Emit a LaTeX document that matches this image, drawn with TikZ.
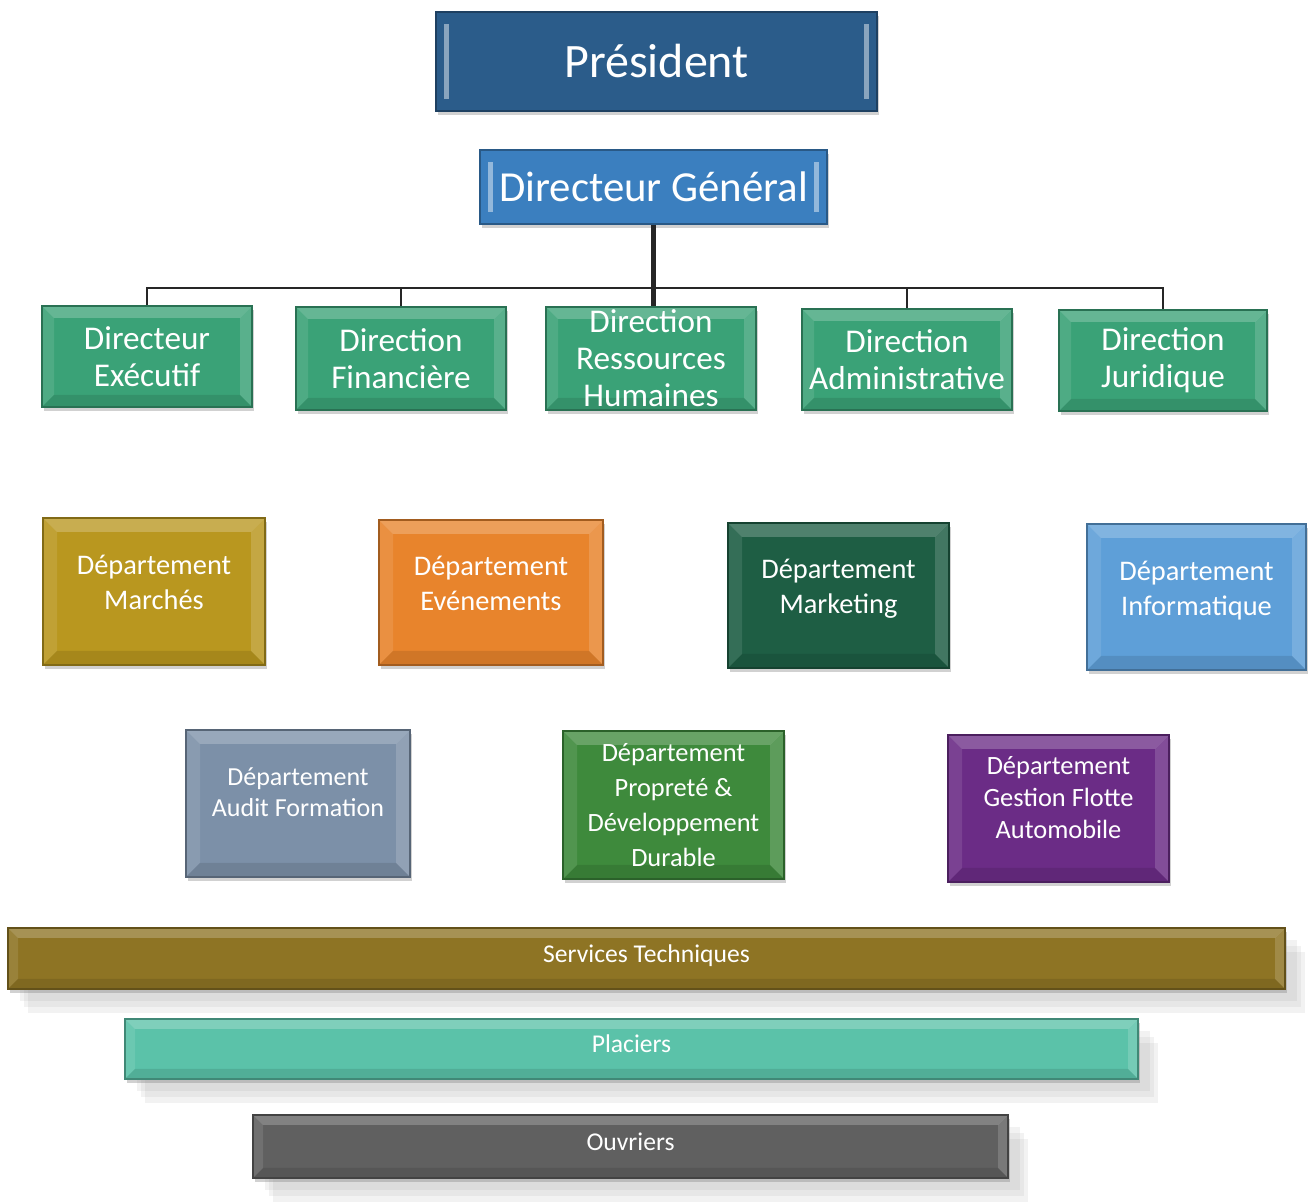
\documentclass[tikz,border=0pt]{standalone}
\usepackage{fontspec}
\setmainfont{Carlito}
\usetikzlibrary{shadows}
\definecolor{cPres}{HTML}{2B5C8A}
\definecolor{cDG}{HTML}{3B7FBF}
\definecolor{cDir}{HTML}{3AA277}
\definecolor{cMarch}{HTML}{B9971F}
\definecolor{cEven}{HTML}{E8842C}
\definecolor{cMark}{HTML}{1E5E44}
\definecolor{cInfo}{HTML}{5E9FD8}
\definecolor{cAudit}{HTML}{7C90A8}
\definecolor{cProp}{HTML}{3E8A3C}
\definecolor{cFlot}{HTML}{6B2C86}
\definecolor{cServ}{HTML}{8E7424}
\definecolor{cPlac}{HTML}{5BC2A9}
\definecolor{cOuv}{HTML}{606060}
\def\bevw{6pt}
\tikzset{
  bevw/.code={\def\bevw{#1}},
  bev/.style={fill=#1, draw=#1!70!black, line width=0.6pt, inner sep=0pt,
    text=white, align=center,
    drop shadow={shadow xshift=1.2pt, shadow yshift=-1.8pt, fill=black, opacity=0.18},
    path picture={
      \fill[white,opacity=0.22] (path picture bounding box.north west) -- (path picture bounding box.north east)
        -- ([shift={(-\bevw,-\bevw)}]path picture bounding box.north east) -- ([shift={(\bevw,-\bevw)}]path picture bounding box.north west) -- cycle;
      \fill[white,opacity=0.10] (path picture bounding box.north west) -- (path picture bounding box.south west)
        -- ([shift={(\bevw,\bevw)}]path picture bounding box.south west) -- ([shift={(\bevw,-\bevw)}]path picture bounding box.north west) -- cycle;
      \fill[white,opacity=0.16] (path picture bounding box.north east) -- (path picture bounding box.south east)
        -- ([shift={(-\bevw,\bevw)}]path picture bounding box.south east) -- ([shift={(-\bevw,-\bevw)}]path picture bounding box.north east) -- cycle;
      \fill[black,opacity=0.10] (path picture bounding box.south west) -- (path picture bounding box.south east)
        -- ([shift={(-\bevw,\bevw)}]path picture bounding box.south east) -- ([shift={(\bevw,\bevw)}]path picture bounding box.south west) -- cycle;
    }},
  topbox/.style={fill=#1, draw=#1!70!black, line width=0.6pt, inner sep=0pt,
    text=white, align=center,
    drop shadow={shadow xshift=1.2pt, shadow yshift=-1.8pt, fill=black, opacity=0.18},
    path picture={
      \fill[white,opacity=0.45] ([shift={(4pt,-6pt)}]path picture bounding box.north west) rectangle ([shift={(6.5pt,6pt)}]path picture bounding box.south west);
      \fill[white,opacity=0.45] ([shift={(-4pt,-6pt)}]path picture bounding box.north east) rectangle ([shift={(-6.5pt,6pt)}]path picture bounding box.south east);
    }},
  barshadow/.style={
    drop shadow={shadow xshift=6pt, shadow yshift=-6pt, fill=gray, opacity=0.10},
    drop shadow={shadow xshift=8pt, shadow yshift=-9pt, fill=gray, opacity=0.10},
    drop shadow={shadow xshift=10pt, shadow yshift=-12pt, fill=gray, opacity=0.10}},
  conn/.style={draw=black!85, line width=1.3pt},
  fPres/.style={font=\fontsize{24}{28}\selectfont},
  fDG/.style={font=\fontsize{21.4}{25}\selectfont},
  fDir/.style={font=\fontsize{16.6}{18.5}\selectfont},
  fDep/.style={font=\fontsize{14.2}{17.5}\selectfont, text depth=9pt},
  fAud/.style={font=\fontsize{13}{15.5}\selectfont, text depth=11pt},
  fProp/.style={font=\fontsize{13.2}{17.4}\selectfont},
  fFlot/.style={font=\fontsize{13.2}{16.2}\selectfont, text depth=11pt},
  fBar/.style={font=\fontsize{12.8}{15}\selectfont, text depth=5pt},
}
\begin{document}
\begin{tikzpicture}[x=0.5pt,y=-0.5pt]
\useasboundingbox (0,0) rectangle (1308,1202);
% top
\node[topbox=cPres, fPres, minimum width=220.5pt, minimum height=49.5pt] (pres) at (656.5,61.5) {Président};
\node[topbox=cDG, fDG, minimum width=173.5pt, minimum height=37pt] (dg) at (653.5,187) {Directeur Général};
% directions
\node[bev=cDir, fDir, minimum width=105pt, minimum height=50.5pt] (d1) at (147,356.5) {Directeur\\Exécutif};
\node[bev=cDir, fDir, minimum width=105pt, minimum height=51.5pt] (d2) at (401,358.5) {Direction\\Financière};
\node[bev=cDir, fDir, minimum width=105pt, minimum height=51.5pt] (d3) at (651,358.5) {Direction\\Ressources\\Humaines};
\node[bev=cDir, fDir, minimum width=105pt, minimum height=50.5pt] (d4) at (907,359.5) {Direction\\Administrative};
\node[bev=cDir, fDir, minimum width=104pt, minimum height=50.5pt] (d5) at (1163,360.5) {Direction\\Juridique};
\coordinate (bus) at (654,288);
\draw[conn] (d1.north) -- (d1.north |- bus) -- (d5.north |- bus) -- (d5.north);
\draw[conn] (d2.north) -- (d2.north |- bus);
\draw[conn] (d4.north) -- (d4.north |- bus);
\draw[conn, line width=2.4pt] (dg.south) -- (dg.south |- d3.north);
% departments row 1
\node[bev=cMarch, bevw=7pt, fDep, minimum width=111pt, minimum height=73.5pt] (m1) at (154,591.5) {Département\\Marchés};
\node[bev=cEven, bevw=7pt, fDep, minimum width=112pt, minimum height=72.5pt] (m2) at (491,592.5) {Département\\Evénements};
\node[bev=cMark, bevw=7pt, fDep, minimum width=110.5pt, minimum height=72.5pt] (m3) at (838.5,595.5) {Département\\Marketing};
\node[bev=cInfo, bevw=7pt, fDep, minimum width=109.5pt, minimum height=73pt] (m4) at (1196.5,597) {Département\\Informatique};
% departments row 2
\node[bev=cAudit, bevw=7pt, fAud, minimum width=112pt, minimum height=73.5pt] (n1) at (298,803.5) {Département\\Audit Formation};
\node[bev=cProp, bevw=7pt, fProp, minimum width=110.5pt, minimum height=74pt] (n2) at (673.5,805) {Département\\Propreté \&\\Développement\\Durable};
\node[bev=cFlot, bevw=7pt, fFlot, minimum width=110.5pt, minimum height=73.5pt] (n3) at (1058.5,808.5) {Département\\Gestion Flotte\\Automobile};
% bars
\node[bev=cServ, bevw=5pt, barshadow, fBar, minimum width=638.5pt, minimum height=30.5pt] (b1) at (646.5,958.5) {Services Techniques};
\node[bev=cPlac, bevw=5pt, barshadow, fBar, minimum width=506.5pt, minimum height=30pt] (b2) at (631.5,1049) {Placiers};
\node[bev=cOuv, bevw=5pt, barshadow, fBar, minimum width=377.5pt, minimum height=31.5pt] (b3) at (630.5,1146.5) {Ouvriers};
\end{tikzpicture}
\end{document}
